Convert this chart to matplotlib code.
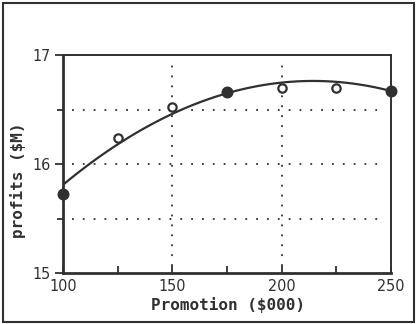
import numpy as np
import matplotlib
matplotlib.use('Agg')
import matplotlib.pyplot as plt
from matplotlib.patches import Rectangle

promotion = [100, 125, 150, 175, 200, 225, 250]
profits = [15.725, 16.24, 16.52, 16.66, 16.70, 16.70, 16.67]
filled = [True, False, False, True, False, False, True]

# fitted curve at three places
curve_x = [100, 175, 250]
curve_y = [15.81, 16.65, 16.67]

x_ticks = [100, 150, 200, 250]
y_ticks = [15, 16, 17]
y_grid = [15.5, 16, 16.5]
x_grid = [150, 200]

ink = '#303030'

fig = plt.figure(figsize=(4.17, 3.24), dpi=100)
fig.patches.append(Rectangle((0.008, 0.006), 0.984, 0.985, transform=fig.transFigure,
                             fill=False, edgecolor=ink, linewidth=1.5))
ax = fig.add_axes([0.151, 0.157, 0.787, 0.673])

coef = np.polyfit(curve_x, curve_y, 2)
xs = np.linspace(100, 250, 60)
ax.plot(xs, np.polyval(coef, xs), color=ink, linewidth=1.6, zorder=3)

for x, y, f in zip(promotion, profits, filled):
    ax.plot(x, y, 'o', markersize=7 if f else 6, markeredgewidth=1.6, markeredgecolor=ink,
            markerfacecolor=ink if f else 'white', zorder=4, clip_on=False)

for g in y_grid:
    ax.plot([104, 246], [g, g], linestyle=(0, (1, 5)), color=ink, linewidth=1.3)
for g in x_grid:
    ax.plot([g, g], [15.07, 16.95], linestyle=(0, (1, 4.5)), color=ink, linewidth=1.3)

ax.set_xlim(100, 250)
ax.set_ylim(15, 17)
ax.set_xticks(x_ticks)
ax.set_xticks([125, 175, 225], minor=True)
ax.set_yticks(y_ticks)
ax.set_yticks([15.5, 16.5], minor=True)
ax.tick_params(axis='x', which='both', direction='in', length=5, width=1.3, color=ink, pad=4)
ax.tick_params(axis='y', which='major', direction='out', length=6, width=1.3, color=ink, pad=3)
ax.tick_params(axis='y', which='minor', direction='out', length=4, width=1.3, color=ink)

for lab in ax.get_xticklabels() + ax.get_yticklabels():
    lab.set_family('DejaVu Sans')
    lab.set_stretch('condensed')
    lab.set_fontsize(11.5)
    lab.set_color(ink)

for side in ['left', 'bottom']:
    ax.spines[side].set_linewidth(2)
for side in ['top', 'right']:
    ax.spines[side].set_linewidth(1.4)
for s in ax.spines.values():
    s.set_color(ink)

ax.set_xlabel('Promotion ($000)', fontsize=11.5, fontweight='bold', family='DejaVu Sans Mono',
              color=ink)
ax.xaxis.set_label_coords(0.503, -0.145)
ax.xaxis.label.set_va('center')
ax.set_ylabel('profits ($M)', fontsize=11.5, fontweight='bold', family='DejaVu Sans Mono',
              color=ink)
ax.yaxis.set_label_coords(-0.137, 0.427)
ax.yaxis.label.set_va('center')

fig.savefig('out.png', dpi=100)
